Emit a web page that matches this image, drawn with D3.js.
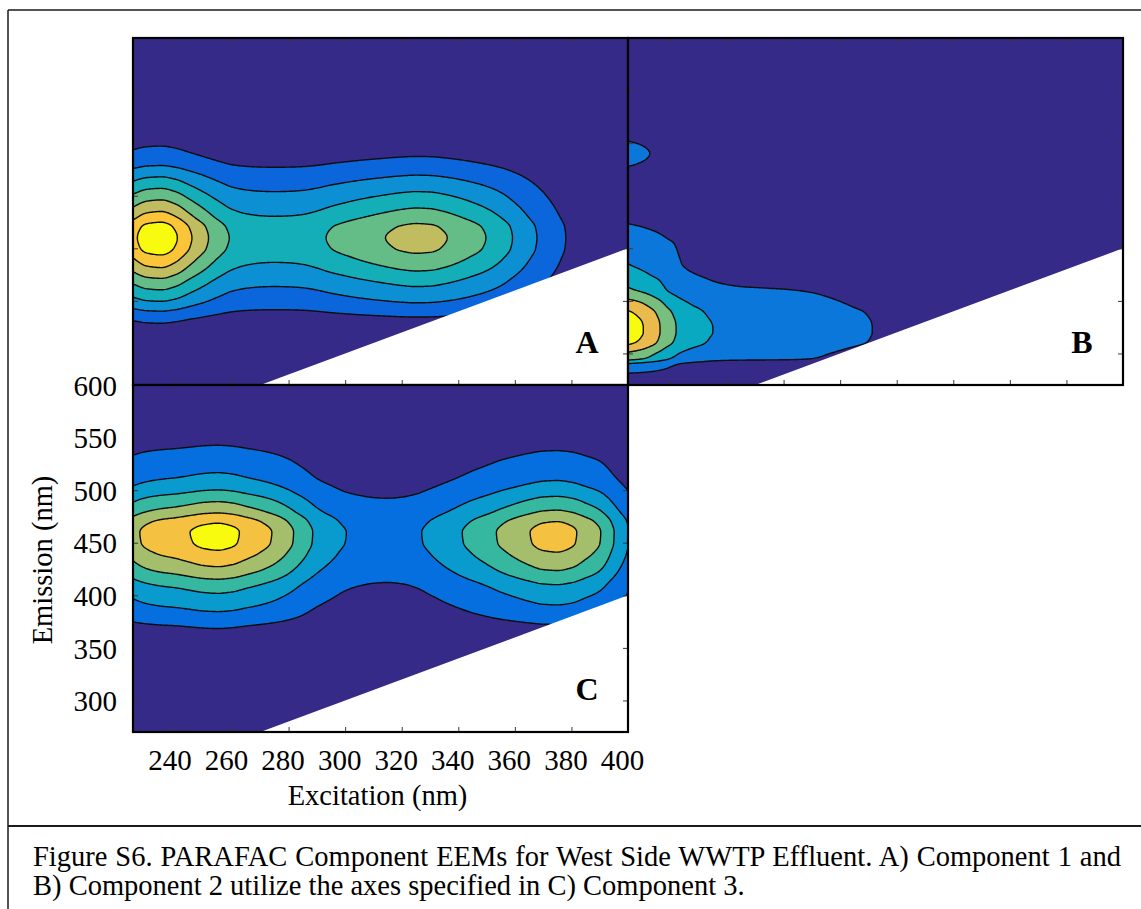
<!DOCTYPE html>
<html>
<head>
<meta charset="utf-8">
<title>PARAFAC Component EEMs</title>
<script src="https://cdn.jsdelivr.net/npm/d3@7/dist/d3.min.js"></script>
<style>
  html, body { margin: 0; padding: 0; background: #ffffff; }
  svg { display: block; }
  text { font-family: "Liberation Serif", "Times New Roman", Times, serif; fill: #000; }
</style>
</head>
<body>
<svg id="figure" width="1141" height="909"></svg>
<script>
// ---------------- data ----------------
// Excitation wavelengths (nm) at which the excitation loadings are listed
const excitationNm = [220,225,230,235,240,245,250,255,260,265,270,275,280,285,290,295,300,305,310,315,320,325,330,335,340,345,350,355,360,365,370,375,380,385,390,395,400];

// Excitation loadings of the three PARAFAC components
const comp1Excitation = [6.0,6.75,7.45,7.6,7.1,6.15,5.28,4.5,3.92,3.68,3.58,3.55,3.57,3.64,3.82,4.1,4.35,4.6,4.82,5.03,5.22,5.33,5.28,5.06,4.75,4.38,3.98,3.5,2.9,2.32,1.76,1.26,0.85,0.55,0.32,0.18,0.10];
const comp2Excitation = [5.85,5.5,5.05,4.25,3.3,2.64,2.28,2.0,1.9,1.85,1.83,1.81,1.79,1.75,1.66,1.48,1.3,1.16,1.04,0.88,0.72,0.57,0.44,0.33,0.245,0.185,0.15,0.12,0.10,0.08,0.07,0.06,0.05,0.04,0.04,0.03,0.03];
const comp3Excitation = [3.9,4.75,5.3,5.6,5.78,6.05,6.32,6.42,6.25,5.85,5.45,4.95,4.3,3.55,2.85,2.4,2.04,1.86,1.76,1.73,1.78,1.92,2.2,2.55,2.92,3.32,3.72,4.18,4.6,5.02,5.36,5.44,5.22,4.68,4.1,3.05,2.1];

// Emission wavelengths (nm) and emission loadings
const emission10Nm = [270,280,290,300,310,320,330,340,350,360,370,380,390,400,410,420,430,440,450,460,470,480,490,500,510,520,530,540,550,560,570,580,590,600];
const comp1Emission = [0.0,0.005,0.01,0.02,0.05,0.09,0.14,0.26,0.40,0.52,0.64,0.77,0.88,0.975,1.00,0.97,0.85,0.73,0.61,0.49,0.37,0.25,0.17,0.12,0.09,0.07,0.05,0.04,0.03,0.02,0.015,0.01,0.008,0.005];
const comp3Emission = [0.0,0.0,0.005,0.01,0.015,0.02,0.03,0.05,0.08,0.12,0.165,0.27,0.36,0.45,0.55,0.69,0.81,0.91,0.98,0.99,0.92,0.75,0.61,0.47,0.36,0.29,0.23,0.17,0.12,0.08,0.05,0.035,0.025,0.02];
const comp2EmissionNm = [270,275,280,285,290,295,300,305,310,315,320,325,330,335,340,345,350,355,360,365,370,375,380,385,390,395,400,405,410,415,420,425,430,440,450,460,470,480,490,500,510,520,530,540,560,580,600];
const comp2Emission = [0.0,0.03,0.15,0.27,0.35,0.6,0.7,0.82,0.94,0.98,1.0,1.0,0.99,0.96,0.92,0.84,0.76,0.66,0.57,0.53,0.49,0.43,0.39,0.365,0.355,0.345,0.335,0.32,0.28,0.24,0.2,0.175,0.16,0.15,0.14,0.14,0.15,0.19,0.215,0.19,0.13,0.09,0.07,0.05,0.03,0.02,0.015];

// Contour levels of each component
const comp1Levels = [1,2,3,4,5,6,7];
const comp2Levels = [1,2,3,4,5];
const comp3Levels = [1,2,3,4,5,6];

// Axis ticks
const excitationTicks = [240,260,280,300,320,340,360,380,400];
const emissionTicks = [300,350,400,450,500,550,600];

const panelLetters = ["A","B","C"];
const captionLines = [
  "Figure S6. PARAFAC Component EEMs for West Side WWTP Effluent. A) Component 1 and",
  "B) Component 2 utilize the axes specified in C) Component 3."
];

// ---------------- styling / layout ----------------
const exDomain = [225, 400];
const emDomain = [270, 600];
const panelW = 495, panelH = 347;
const panels = [
  { letter: panelLetters[0], left: 133, top: 38,  ex: comp1Excitation, emNm: emission10Nm,   em: comp1Emission, levels: comp1Levels, labelled: false },
  { letter: panelLetters[1], left: 628, top: 38,  ex: comp2Excitation, emNm: comp2EmissionNm, em: comp2Emission, levels: comp2Levels, labelled: false },
  { letter: panelLetters[2], left: 133, top: 385, ex: comp3Excitation, emNm: emission10Nm,   em: comp3Emission, levels: comp3Levels, labelled: true }
];

// parula colormap stops
const parulaIdx = [0,5,10,15,20,25,30,35,40,45,50,55,60,63];
const parulaHex = ["#352a87","#2b4ac7","#046de0","#1481d6","#0998d1","#07a9c2","#25b5a9","#59bd8b","#91bf73","#c0bc60","#e9b94e","#fec832","#f5e41d","#f9fb0e"];
const parula = d3.scaleLinear().domain(parulaIdx.map(i => i / 63)).range(parulaHex).interpolate(d3.interpolateRgb);

// shape-preserving cubic through the listed loadings
function monotone(xs, ys) {
  const n = xs.length, d = [], m = new Array(n);
  for (let i = 0; i < n - 1; i++) d.push((ys[i + 1] - ys[i]) / (xs[i + 1] - xs[i]));
  m[0] = d[0]; m[n - 1] = d[n - 2];
  for (let i = 1; i < n - 1; i++) {
    if (d[i - 1] * d[i] <= 0) m[i] = 0;
    else {
      const h0 = xs[i] - xs[i - 1], h1 = xs[i + 1] - xs[i];
      const w1 = 2 * h1 + h0, w2 = h1 + 2 * h0;
      m[i] = (w1 + w2) / (w1 / d[i - 1] + w2 / d[i]);
    }
  }
  return x => {
    let i = d3.bisectRight(xs, x) - 1;
    i = Math.max(0, Math.min(n - 2, i));
    const h = xs[i + 1] - xs[i], t = (x - xs[i]) / h, t2 = t * t, t3 = t2 * t;
    return (2 * t3 - 3 * t2 + 1) * ys[i] + (t3 - 2 * t2 + t) * h * m[i]
         + (-2 * t3 + 3 * t2) * ys[i + 1] + (t3 - t2) * h * m[i + 1];
  };
}

const svg = d3.select("#figure");

// table frame around figure and caption
const frame = svg.append("g").attr("stroke", "#1a1a1a").attr("fill", "none");
frame.append("line").attr("x1", 8).attr("y1", 10).attr("x2", 1141).attr("y2", 10).attr("stroke-width", 1.5);
frame.append("line").attr("x1", 8).attr("y1", 10).attr("x2", 8).attr("y2", 909).attr("stroke-width", 1.5);
frame.append("line").attr("x1", 8).attr("y1", 826).attr("x2", 1141).attr("y2", 826).attr("stroke-width", 2);

const exStep = 0.5, emStep = 1;
const gridEx0 = excitationNm[0], gridEx1 = excitationNm[excitationNm.length - 1];
const gridEm0 = emDomain[0], gridEm1 = emDomain[1];
const nx = Math.round((gridEx1 - gridEx0) / exStep) + 1;
const ny = Math.round((gridEm1 - gridEm0) / emStep) + 1;

panels.forEach((p, k) => {
  const x = d3.scaleLinear().domain(exDomain).range([p.left, p.left + panelW]);
  const y = d3.scaleLinear().domain(emDomain).range([p.top + panelH, p.top]);
  const g = svg.append("g");
  const clipId = "clip" + k;
  svg.append("clipPath").attr("id", clipId).append("rect")
    .attr("x", p.left).attr("y", p.top).attr("width", panelW).attr("height", panelH);
  const plot = g.append("g").attr("clip-path", `url(#${clipId})`);

  // lowest band
  plot.append("rect").attr("x", p.left).attr("y", p.top).attr("width", panelW).attr("height", panelH)
    .attr("fill", parula(0));

  // EEM = excitation loading x emission loading
  const fa = monotone(excitationNm, p.ex), fb = monotone(p.emNm, p.em);
  const av = new Float64Array(nx), bv = new Float64Array(ny);
  for (let i = 0; i < nx; i++) av[i] = Math.max(0, fa(gridEx0 + i * exStep));
  for (let j = 0; j < ny; j++) bv[j] = Math.max(0, fb(gridEm0 + j * emStep));
  const values = new Float64Array(nx * ny);
  for (let j = 0; j < ny; j++) for (let i = 0; i < nx; i++) values[j * nx + i] = av[i] * bv[j];

  const contours = d3.contours().size([nx, ny]).thresholds(p.levels)(values);
  const proj = d3.geoTransform({
    point(u, v) { this.stream.point(x(gridEx0 + (u - 0.5) * exStep), y(gridEm0 + (v - 0.5) * emStep)); }
  });
  const path = d3.geoPath(proj);
  const n = p.levels.length;
  plot.selectAll("path.band").data(contours).join("path")
    .attr("class", "band")
    .attr("d", path)
    .attr("fill", (d, i) => parula((i + 1) / n))
    .attr("stroke", "#0d0d0d")
    .attr("stroke-width", 1.4)
    .attr("stroke-linejoin", "round");

  // scatter region (emission shorter than excitation) left blank
  const maskPts = [[emDomain[0] - 10, emDomain[0] - 10], [exDomain[1] + 10, exDomain[1] + 10], [exDomain[1] + 10, emDomain[0] - 10]];
  plot.append("path")
    .attr("d", d3.line().x(d => x(d[0])).y(d => y(d[1]))(maskPts) + "Z")
    .attr("fill", "#fff");

  // inward ticks on all four sides
  const tickLen = 5;
  const styleAxis = sel => {
    sel.select(".domain").remove();
    sel.selectAll(".tick line").attr("stroke", "#3a3a3a").attr("stroke-width", 1);
    sel.attr("font-family", null).attr("font-size", null);
  };
  const fmt = p.labelled ? d3.format("d") : () => "";
  g.append("g").attr("transform", `translate(0,${p.top + panelH})`)
    .call(d3.axisBottom(x).tickValues(excitationTicks).tickSize(-tickLen).tickFormat(fmt))
    .call(styleAxis)
    .call(s => s.selectAll(".tick text").attr("x", -6).attr("y", 28).attr("dy", "0.35em").style("font-size", "29px"));
  g.append("g").attr("transform", `translate(0,${p.top})`)
    .call(d3.axisTop(x).tickValues(excitationTicks).tickSize(-tickLen).tickFormat(""))
    .call(styleAxis);
  g.append("g").attr("transform", `translate(${p.left},0)`)
    .call(d3.axisLeft(y).tickValues(emissionTicks).tickSize(-tickLen).tickFormat(fmt))
    .call(styleAxis)
    .call(s => s.selectAll(".tick text").attr("x", -16).attr("dy", "0.35em").style("font-size", "29px"));
  g.append("g").attr("transform", `translate(${p.left + panelW},0)`)
    .call(d3.axisRight(y).tickValues(emissionTicks).tickSize(-tickLen).tickFormat(""))
    .call(styleAxis);

  // box
  g.append("rect").attr("x", p.left).attr("y", p.top).attr("width", panelW).attr("height", panelH)
    .attr("fill", "none").attr("stroke", "#000").attr("stroke-width", 2.2);

  // panel letter
  g.append("text").attr("x", p.left + panelW - 41).attr("y", p.top + panelH - 32)
    .attr("text-anchor", "middle").style("font-size", "32px").style("font-weight", "bold")
    .text(p.letter);

  if (p.labelled) {
    svg.append("text").attr("x", (p.left + p.left + panelW) / 2 - 3).attr("y", 805)
      .attr("text-anchor", "middle").style("font-size", "28.5px").text("Excitation (nm)");
    svg.append("text").attr("transform", `translate(52,${560}) rotate(-90)`)
      .attr("text-anchor", "middle").style("font-size", "28.5px").text("Emission (nm)");
  }
});

// caption
const cap1 = svg.append("text").attr("x", 33).attr("y", 866).style("font-size", "28.5px").text(captionLines[0]);
svg.append("text").attr("x", 33).attr("y", 895).style("font-size", "28.5px").text(captionLines[1]);
const natural = cap1.node().getComputedTextLength();
const spaces = captionLines[0].split(" ").length - 1;
cap1.style("word-spacing", ((1088 - natural) / spaces) + "px");
</script>
</body>
</html>
